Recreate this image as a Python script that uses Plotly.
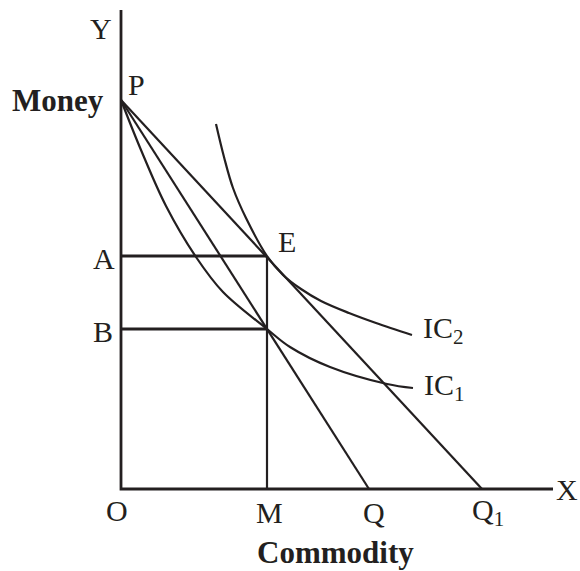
import plotly.graph_objects as go

# ---- data (x: commodity, y: money; origin O at (0,0)) ----
P = [0, 389]
E = [146, 233]
A_y = 233
B_y = 160
M_x = 146
Q_x = 248
Q1_x = 361
axis_x_end = 432
axis_y_end = 479

ic1_x = [0, 20, 45, 75, 102, 146, 169, 209, 266, 292]
ic1_y = [389, 339, 283, 232, 197, 160, 142, 122, 105, 101]

ic2_x = [95, 103, 112, 125, 146, 162, 180, 200, 228, 255, 291]
ic2_y = [365, 332, 301, 271, 233, 214, 200, 188, 176, 166, 154]

labels = ["Y", "P", "Money", "A", "B", "E", "O", "M", "Q", "Q<sub>1</sub>", "X",
          "Commodity", "IC<sub>2</sub>", "IC<sub>1</sub>"]

INK = "#231f20"
FONT = "Liberation Serif, Times New Roman, serif"

fig = go.Figure()

def line(xs, ys, w=2.2, shape="linear"):
    fig.add_trace(go.Scatter(x=xs, y=ys, mode="lines",
                             line=dict(color=INK, width=w, shape=shape),
                             hoverinfo="skip", showlegend=False))

# axes
line([0, 0, axis_x_end], [axis_y_end, 0, 0], w=2.8)
# A and B guide lines
line([0, E[0]], [A_y, A_y], w=3)
line([0, M_x], [B_y, B_y], w=3)
# M vertical
line([M_x, M_x], [A_y, 0], w=2.2)
# budget lines
line([P[0], Q_x], [P[1], 0], w=2.2)
line([P[0], Q1_x], [P[1], 0], w=2.2)
# indifference curves
line(ic1_x, ic1_y, w=2.2, shape="spline")
line(ic2_x, ic2_y, w=2.2, shape="spline")

def txt(x, y, s, size=30, xanchor="center", bold=False):
    fig.add_annotation(x=x, y=y, text=(f"<b>{s}</b>" if bold else s),
                       showarrow=False, xanchor=xanchor, yanchor="middle",
                       font=dict(family=FONT, size=size, color=INK))

txt(-20, 461, labels[0])
txt(15, 405, labels[1])
txt(-63.5, 389, labels[2], size=31, bold=True)
txt(-17, 231, labels[3])
txt(-18, 158, labels[4])
txt(166, 248, labels[5])
txt(-4, -21, labels[6])
txt(148, -23, labels[7])
txt(253, -23, labels[8])
txt(349, -23, labels[9], xanchor="left")
txt(446, 0, labels[10])
txt(214, -63, labels[11], size=31, bold=True)
txt(300, 159, labels[12], xanchor="left")
txt(301, 102, labels[13], xanchor="left")

fig.update_layout(
    width=580, height=571,
    margin=dict(l=0, r=0, t=0, b=0),
    paper_bgcolor="white", plot_bgcolor="white",
    xaxis=dict(range=[-121, 459], visible=False, fixedrange=True),
    yaxis=dict(range=[-82, 489], visible=False, fixedrange=True),
)

fig.write_html("out.html", config={"displayModeBar": False},
               post_script="document.body.style.margin='0';document.body.style.overflow='hidden';")
